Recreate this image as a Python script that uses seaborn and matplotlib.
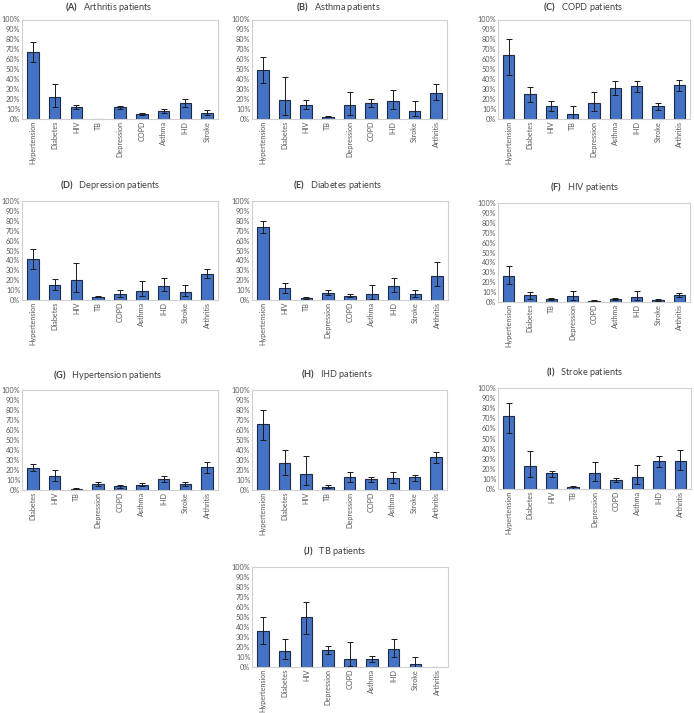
import matplotlib
matplotlib.use("Agg")
import matplotlib.pyplot as plt
import seaborn as sns
import numpy as np
import pandas as pd
from matplotlib.ticker import FuncFormatter

# ---------------- data (percent) ----------------
a_cats = ["Hypertension", "Diabetes", "HIV", "TB", "Depression", "COPD", "Asthma", "IHD", "Stroke"]
a_vals = [67.6, 21.7, 11.8, 0.0, 11.7, 5.4, 8.4, 16.0, 6.4]
a_lo = [57.0, 12.4, 9.6, None, 9.7, 4.3, 6.0, 12.4, 3.7]
a_hi = [77.0, 35.0, 13.7, None, 13.4, 6.4, 10.4, 19.7, 9.4]

b_cats = ["Hypertension", "Diabetes", "HIV", "TB", "Depression", "COPD", "IHD", "Stroke", "Arthritis"]
b_vals = [49.2, 18.7, 14.0, 2.3, 13.7, 16.0, 18.4, 8.4, 26.4]
b_lo = [36.1, 4.0, 10.0, 1.7, 4.3, 12.0, 10.0, 3.0, 18.7]
b_hi = [61.9, 42.1, 18.7, 3.0, 26.8, 20.0, 28.8, 17.7, 34.8]

c_cats = ["Hypertension", "Diabetes", "HIV", "TB", "Depression", "Asthma", "IHD", "Stroke", "Arthritis"]
c_vals = [64.2, 24.7, 13.0, 5.0, 16.4, 31.1, 32.8, 12.7, 34.1]
c_lo = [44.1, 17.4, 8.4, 0.0, 7.7, 23.7, 27.1, 9.0, 28.4]
c_hi = [80.0, 32.4, 18.0, 13.0, 27.4, 38.5, 38.1, 15.7, 39.1]

d_cats = ["Hypertension", "Diabetes", "HIV", "TB", "COPD", "Asthma", "IHD", "Stroke", "Arthritis"]
d_vals = [41.3, 15.4, 20.5, 3.4, 6.0, 9.4, 14.4, 8.0, 26.5]
d_lo = [31.2, 10.0, 8.0, 2.7, 3.0, 3.7, 9.0, 4.0, 22.1]
d_hi = [51.3, 21.5, 37.2, 4.0, 10.0, 19.1, 21.8, 15.1, 31.2]

e_cats = ["Hypertension", "HIV", "TB", "Depression", "COPD", "Asthma", "IHD", "Stroke", "Arthritis"]
e_vals = [73.5, 12.1, 1.7, 7.0, 4.4, 6.4, 14.4, 6.0, 24.2]
e_lo = [67.4, 7.4, 0.7, 4.7, 3.0, 1.3, 8.0, 3.4, 13.8]
e_hi = [79.5, 17.4, 2.7, 10.0, 5.7, 14.8, 21.8, 9.7, 38.6]

f_cats = ["Hypertension", "Diabetes", "TB", "Depression", "COPD", "Asthma", "IHD", "Stroke", "Arthritis"]
f_vals = [26.1, 6.7, 3.0, 5.7, 1.3, 3.0, 5.0, 2.0, 7.0]
f_lo = [18.0, 3.3, 2.0, 2.3, 0.7, 2.0, 1.7, 1.0, 5.3]
f_hi = [36.1, 9.7, 4.0, 10.7, 1.7, 4.0, 11.0, 3.0, 9.0]

g_cats = ["Diabetes", "HIV", "TB", "Depression", "COPD", "Asthma", "IHD", "Stroke", "Arthritis"]
g_vals = [22.3, 14.3, 1.3, 6.0, 3.7, 5.3, 11.0, 5.7, 23.0]
g_lo = [19.0, 9.0, 0.7, 4.0, 2.3, 3.7, 8.0, 3.7, 17.0]
g_hi = [25.7, 19.7, 1.7, 8.0, 4.7, 7.0, 14.3, 8.0, 28.3]

h_cats = ["Hypertension", "Diabetes", "HIV", "TB", "Depression", "COPD", "Asthma", "Stroke", "Arthritis"]
h_vals = [66.0, 26.7, 15.7, 3.3, 12.7, 10.7, 11.7, 12.7, 32.7]
h_lo = [50.0, 15.3, 4.7, 2.0, 8.0, 8.3, 6.7, 9.3, 27.3]
h_hi = [79.7, 40.3, 34.3, 4.7, 18.3, 13.3, 18.3, 15.3, 38.3]

i_cats = ["Hypertension", "Diabetes", "HIV", "TB", "Depression", "COPD", "Asthma", "IHD", "Arthritis"]
i_vals = [72.1, 22.9, 15.6, 1.7, 15.9, 9.0, 12.0, 27.6, 28.2]
i_lo = [55.1, 12.3, 12.3, 0.3, 7.6, 7.3, 4.7, 21.9, 19.3]
i_hi = [85.4, 37.5, 17.9, 3.3, 27.2, 10.6, 23.3, 32.9, 38.5]

j_cats = ["Hypertension", "Diabetes", "HIV", "Depression", "COPD", "Asthma", "IHD", "Stroke", "Arthritis"]
j_vals = [35.7, 16.3, 49.7, 17.3, 8.3, 8.0, 18.3, 3.3, 0.0]
j_lo = [23.0, 8.3, 33.3, 13.0, 1.0, 5.3, 10.0, 0.0, None]
j_hi = [49.7, 27.7, 65.3, 21.3, 24.7, 10.7, 28.0, 9.7, None]

titles = ["(A)", "(B)", "(C)", "(D)", "(E)", "(F)", "(G)", "(H)", "(I)", "(J)"]
subtitles = ["Arthritis patients", "Asthma patients", "COPD patients", "Depression patients",
             "Diabetes patients", "HIV patients", "Hypertension patients", "IHD patients",
             "Stroke patients", "TB patients"]
yticks = [0, 10, 20, 30, 40, 50, 60, 70, 80, 90, 100]

panels = [
    (a_cats, a_vals, a_lo, a_hi),
    (b_cats, b_vals, b_lo, b_hi),
    (c_cats, c_vals, c_lo, c_hi),
    (d_cats, d_vals, d_lo, d_hi),
    (e_cats, e_vals, e_lo, e_hi),
    (f_cats, f_vals, f_lo, f_hi),
    (g_cats, g_vals, g_lo, g_hi),
    (h_cats, h_vals, h_lo, h_hi),
    (i_cats, i_vals, i_lo, i_hi),
    (j_cats, j_vals, j_lo, j_hi),
]

# ---------------- layout (pixels) ----------------
W, H = 694, 713
rects = [  # left, top, right, bottom
    (22, 19.5, 218, 119),
    (252, 19.5, 447, 119),
    (498, 19.5, 690, 119),
    (22, 201, 218, 300),
    (252, 201, 448, 300),
    (498, 203, 690, 302),
    (22, 390, 218, 490),
    (252, 390, 447, 490),
    (498, 388, 691, 489),
    (252, 567, 448, 667),
]
title_pos = [(109, 6.5), (338, 6.5), (583, 6.5), (110, 185), (338, 185), (585, 187),
             (108, 375), (337, 374), (585, 372), (335, 551)]

sns.set_theme(style="white")
plt.rcParams["font.family"] = ["Lato", "DejaVu Sans"]
plt.rcParams["mathtext.fontset"] = "custom"
plt.rcParams["mathtext.rm"] = "Lato"
plt.rcParams["mathtext.bf"] = "Lato:bold"

fig = plt.figure(figsize=(W / 100, H / 100), dpi=100)
fig.patch.set_facecolor("white")

BAR = "#4472C4"
EDGE = "#1F2A44"
FRAME = "#D0D0D0"
TICKC = "#595959"

for k, ((cats, vals, lo, hi), (l, t, r, b)) in enumerate(zip(panels, rects)):
    ax = fig.add_axes([l / W, 1 - b / H, (r - l) / W, (b - t) / H])
    df = pd.DataFrame({"cat": cats, "val": vals})
    sns.barplot(data=df, x="cat", y="val", order=cats, color=BAR, saturation=1,
                width=0.53, edgecolor=EDGE, linewidth=0.8, errorbar=None, ax=ax)
    v = np.array(vals, dtype=float)
    lo_a = np.array([np.nan if x is None else x for x in lo], dtype=float)
    hi_a = np.array([np.nan if x is None else x for x in hi], dtype=float)
    ax.errorbar(np.arange(len(cats)), v, yerr=[v - lo_a, hi_a - v], fmt="none",
                ecolor="#1a1a1a", elinewidth=0.7, capsize=2, capthick=0.7)
    ax.set_xlim(-0.5, len(cats) - 0.5)
    ax.set_ylim(0, 100)
    ax.set_yticks(yticks)
    ax.yaxis.set_major_formatter(FuncFormatter(lambda y, p: f"{y:.0f}%"))
    ax.set_xlabel("")
    ax.set_ylabel("")
    ax.tick_params(axis="both", length=0, pad=1.2, labelsize=5.25, colors=TICKC)
    for lab in ax.get_xticklabels():
        lab.set_rotation(90)
    for sp in ax.spines.values():
        sp.set_visible(True)
        sp.set_color(FRAME)
        sp.set_linewidth(0.8)
    ax.grid(False)
    tx, ty = title_pos[k]
    fig.text(tx / W, 1 - ty / H, r"$\mathbf{" + titles[k] + "}$   " + subtitles[k],
             ha="center", va="center", fontsize=6.6, color="#404040")

fig.savefig("out.png", dpi=100, facecolor="white")
